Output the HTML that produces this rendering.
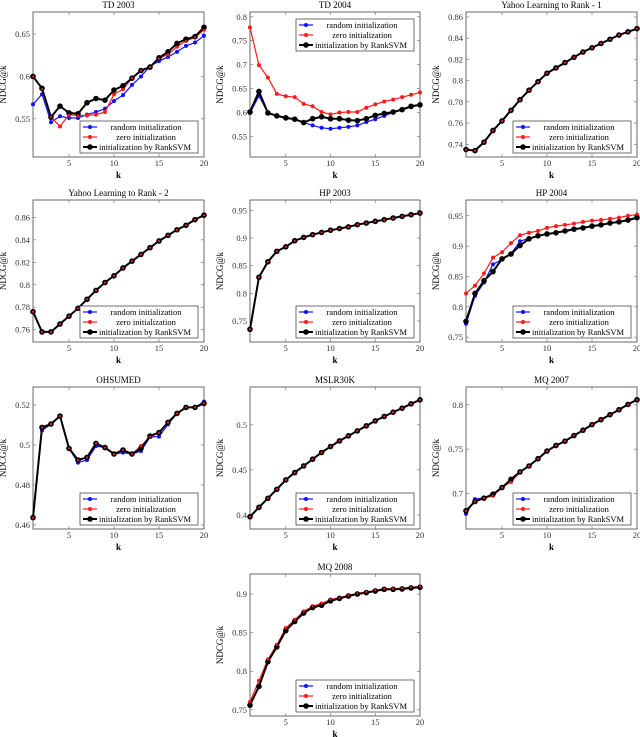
<!DOCTYPE html>
<html><head><meta charset="utf-8"><style>
body{margin:0;background:#fff;}
svg{display:block;font-family:"Liberation Serif",serif;}
</style></head><body>
<svg id="fig" width="640" height="737" viewBox="0 0 640 737"></svg>
<script>
const ks=[1,2,3,4,5,6,7,8,9,10,11,12,13,14,15,16,17,18,19,20];
const seriesNames=["random initialization","zero initialization","initialization by RankSVM"];
const titles=["TD 2003","TD 2004","Yahoo Learning to Rank - 1","Yahoo Learning to Rank - 2","HP 2003","HP 2004","OHSUMED","MSLR30K","MQ 2007","MQ 2008"];
const td03Rand=[0.567,0.579,0.546,0.553,0.551,0.551,0.555,0.558,0.562,0.571,0.578,0.590,0.600,0.612,0.618,0.623,0.629,0.636,0.640,0.648];
const td03Zero=[0.600,0.585,0.552,0.541,0.555,0.554,0.554,0.555,0.558,0.579,0.585,0.598,0.607,0.611,0.621,0.626,0.635,0.642,0.646,0.655];
const td03Svm=[0.600,0.586,0.552,0.565,0.557,0.556,0.569,0.574,0.572,0.584,0.589,0.598,0.607,0.611,0.622,0.629,0.639,0.644,0.647,0.658];
const td04Rand=[0.599,0.635,0.599,0.593,0.587,0.586,0.579,0.573,0.568,0.566,0.568,0.570,0.573,0.580,0.586,0.593,0.600,0.606,0.611,0.616];
const td04Zero=[0.778,0.699,0.673,0.639,0.634,0.632,0.618,0.613,0.601,0.596,0.600,0.601,0.601,0.610,0.617,0.623,0.627,0.632,0.637,0.642];
const td04Svm=[0.601,0.644,0.599,0.593,0.589,0.586,0.579,0.587,0.591,0.587,0.587,0.584,0.583,0.587,0.594,0.598,0.601,0.606,0.613,0.616];
const y1Svm=[0.735,0.734,0.742,0.753,0.762,0.772,0.782,0.791,0.799,0.807,0.812,0.817,0.822,0.827,0.831,0.835,0.839,0.843,0.846,0.849];
const y2Svm=[0.776,0.758,0.758,0.765,0.772,0.779,0.787,0.795,0.802,0.808,0.815,0.821,0.827,0.833,0.839,0.844,0.849,0.853,0.858,0.862];
const hp03Svm=[0.735,0.829,0.857,0.876,0.884,0.895,0.901,0.906,0.910,0.914,0.917,0.920,0.924,0.927,0.930,0.933,0.936,0.939,0.942,0.945];
const hp04Rand=[0.772,0.818,0.840,0.870,0.878,0.887,0.908,0.913,0.917,0.920,0.922,0.924,0.927,0.930,0.932,0.935,0.937,0.940,0.942,0.946];
const hp04Zero=[0.822,0.835,0.855,0.881,0.890,0.905,0.918,0.922,0.925,0.930,0.933,0.935,0.937,0.940,0.942,0.943,0.945,0.947,0.950,0.952];
const hp04Svm=[0.776,0.822,0.843,0.858,0.879,0.887,0.901,0.912,0.917,0.920,0.922,0.925,0.928,0.930,0.933,0.935,0.938,0.940,0.943,0.947];
const ohRand=[0.4637,0.5072,0.5105,0.5145,0.4983,0.4912,0.4925,0.4995,0.4987,0.4955,0.4962,0.4955,0.4970,0.5040,0.5042,0.5103,0.5158,0.5188,0.5188,0.5217];
const ohZero=[0.4637,0.5088,0.5105,0.5145,0.4983,0.4925,0.4938,0.5008,0.4987,0.4955,0.4975,0.4955,0.4995,0.5040,0.5062,0.5113,0.5158,0.5188,0.5188,0.5208];
const ohSvm=[0.4637,0.5088,0.5105,0.5145,0.4983,0.4925,0.4938,0.5008,0.4987,0.4955,0.4975,0.4955,0.4983,0.5045,0.5062,0.5113,0.5158,0.5188,0.5188,0.5208];
const mslrSvm=[0.398,0.4085,0.4185,0.4285,0.4389,0.447,0.4544,0.4619,0.4693,0.4759,0.4822,0.4878,0.4933,0.4989,0.5044,0.5093,0.5141,0.5185,0.5233,0.5278];
const mq07Rand=[0.677,0.6937,0.6948,0.6993,0.7067,0.716,0.7243,0.731,0.7392,0.7478,0.7541,0.759,0.7653,0.7713,0.7776,0.7832,0.7888,0.7944,0.8004,0.8056];
const mq07Zero=[0.6806,0.691,0.6948,0.6974,0.7067,0.713,0.7243,0.731,0.7392,0.7478,0.7541,0.759,0.7653,0.7713,0.7776,0.7832,0.7888,0.7944,0.8004,0.8056];
const mq07Svm=[0.6806,0.691,0.6948,0.6993,0.7067,0.716,0.7243,0.731,0.7392,0.7478,0.7541,0.759,0.7653,0.7713,0.7776,0.7832,0.7888,0.7944,0.8004,0.8056];
const mq08Zero=[0.7605,0.7877,0.8154,0.8342,0.8561,0.8667,0.8776,0.8842,0.8877,0.893,0.8953,0.8984,0.901,0.9028,0.9049,0.9071,0.9071,0.9076,0.9089,0.9098];
const mq08Svm=[0.7561,0.7803,0.8123,0.8316,0.8526,0.8645,0.8754,0.8825,0.8855,0.8912,0.8943,0.8974,0.900,0.9018,0.9039,0.9061,0.9061,0.9066,0.9079,0.9088];
const yTicks=[[0.55,0.6,0.65],[0.55,0.6,0.65,0.7,0.75,0.8],[0.74,0.76,0.78,0.8,0.82,0.84,0.86],[0.76,0.78,0.8,0.82,0.84,0.86],[0.75,0.8,0.85,0.9,0.95],[0.75,0.8,0.85,0.9,0.95],[0.46,0.48,0.5,0.52],[0.4,0.45,0.5],[0.7,0.75,0.8],[0.75,0.8,0.85,0.9]];
const xTicks=[5,10,15,20];

const panels=[
 {x0:33,x1:204,y0:12,y1:157,lo:0.505,hi:0.676,s:[td03Rand,td03Zero,td03Svm],leg:"br"},
 {x0:250,x1:420,y0:12,y1:157,lo:0.507,hi:0.810,s:[td04Rand,td04Zero,td04Svm],leg:"tr"},
 {x0:466,x1:637,y0:12,y1:157,lo:0.728,hi:0.8647,s:[y1Svm,y1Svm,y1Svm],leg:"br"},
 {x0:33,x1:204,y0:200,y1:342,lo:0.749,hi:0.8755,s:[y2Svm,y2Svm,y2Svm],leg:"br"},
 {x0:250,x1:420,y0:200,y1:342,lo:0.712,hi:0.9686,s:[hp03Svm,hp03Svm,hp03Svm],leg:"br"},
 {x0:466,x1:637,y0:200,y1:342,lo:0.742,hi:0.976,s:[hp04Rand,hp04Zero,hp04Svm],leg:"br"},
 {x0:33,x1:204,y0:387,y1:529,lo:0.458,hi:0.529,s:[ohRand,ohZero,ohSvm],leg:"br"},
 {x0:250,x1:420,y0:387,y1:529,lo:0.3844,hi:0.542,s:[mslrSvm,mslrSvm,mslrSvm],leg:"br"},
 {x0:466,x1:637,y0:387,y1:529,lo:0.660,hi:0.820,s:[mq07Rand,mq07Zero,mq07Svm],leg:"br"},
 {x0:250,x1:420,y0:574,y1:716,lo:0.742,hi:0.926,s:[mq08Svm,mq08Zero,mq08Svm],leg:"br"}
];
const NS="http://www.w3.org/2000/svg";
const svg=document.getElementById('fig');
function mk(tag,attrs,parent){const e=document.createElementNS(NS,tag);for(const k in attrs)e.setAttribute(k,attrs[k]);(parent||svg).appendChild(e);return e;}
const colors=["#1010ff","#ff1a1a","#000"];
panels.forEach((p,i)=>{
  const g=mk('g',{});
  
  
  const X=k=>p.x0+(k-1)*(p.x1-p.x0)/19;
  const Y=v=>p.y1-(v-p.lo)*(p.y1-p.y0)/(p.hi-p.lo);
  const t=mk('text',{x:(p.x0+p.x1)/2,y:p.y0-4,'text-anchor':'middle','font-size':9},g);t.textContent=titles[i];
  
  mk('rect',{x:p.x0,y:p.y0,width:p.x1-p.x0,height:p.y1-p.y0,fill:'none',stroke:'#444','stroke-width':0.8},g);
  xTicks.forEach(k=>{const x=X(k);
    mk('line',{x1:x,x2:x,y1:p.y1,y2:p.y1-3,stroke:'#666','stroke-width':0.6},g);
    mk('line',{x1:x,x2:x,y1:p.y0,y2:p.y0+3,stroke:'#666','stroke-width':0.6},g);
    const tl=mk('text',{x:x,y:p.y1+9,'text-anchor':'middle','font-size':8.5,fill:'#333'},g);tl.textContent=k;
    });
  yTicks[i].forEach(v=>{const y=Y(v);
    mk('line',{x1:p.x0,x2:p.x0+3,y1:y,y2:y,stroke:'#666','stroke-width':0.6},g);
    mk('line',{x1:p.x1,x2:p.x1-3,y1:y,y2:y,stroke:'#666','stroke-width':0.6},g);
    const tl=mk('text',{x:p.x0-3,y:y+3,'text-anchor':'end','font-size':8.5,fill:'#333'},g);tl.textContent=String(v);
    });
  const xl=mk('text',{x:(p.x0+p.x1)/2,y:p.y1+21,'text-anchor':'middle','font-size':9,'font-weight':'bold'},g);xl.textContent='k';
  
  const yx=p.x0-27,yy=(p.y0+p.y1)/2;
  const yl=mk('text',{x:yx,y:yy,'text-anchor':'middle','font-size':9,transform:`rotate(-90 ${yx} ${yy})`},g);yl.textContent='NDCG@k';
  
  // series
  [0,1,2].forEach(si=>{
    const vals=p.s[si];
    const pts=ks.map((k,j)=>X(k)+','+Y(vals[j])).join(' ');
    const pl=mk('polyline',{points:pts,fill:'none',stroke:colors[si],'stroke-width':si==2?2:1.2},g);
    
    
    ks.forEach((k,j)=>{
      const c=mk('circle',{cx:X(k),cy:Y(vals[j]),r:si==2?2.8:2,fill:colors[si]},g);
      
      
    });
  });
  ks.forEach((k,j)=>{const c=mk('circle',{cx:X(k),cy:Y(p.s[1][j]),r:1.1,fill:'#ff1a1a'},g);
    });
  // legend
  const lw=118,lh=32;
  const lx=p.x1-6-lw, ly=p.leg=="tr"?p.y0+7:p.y1-4-lh;
  const lg=mk('g',{},g);
  
  mk('rect',{x:lx,y:ly,width:lw,height:lh,fill:'#fff',stroke:'#333','stroke-width':0.7},lg);
  seriesNames.forEach((n,si)=>{
    const yy2=ly+6+si*10;
    mk('line',{x1:lx+3,x2:lx+17,y1:yy2,y2:yy2,stroke:colors[si],'stroke-width':si==2?2:1.2},lg);
    mk('circle',{cx:lx+10,cy:yy2,r:si==2?2.8:2,fill:colors[si]},lg);
    const tt=mk('text',{x:si==2?lx+19:lx+66,y:yy2+3,'text-anchor':si==2?'start':'middle','font-size':8.5},lg);tt.textContent=n;
    
  });
});
</script>
</body></html>
